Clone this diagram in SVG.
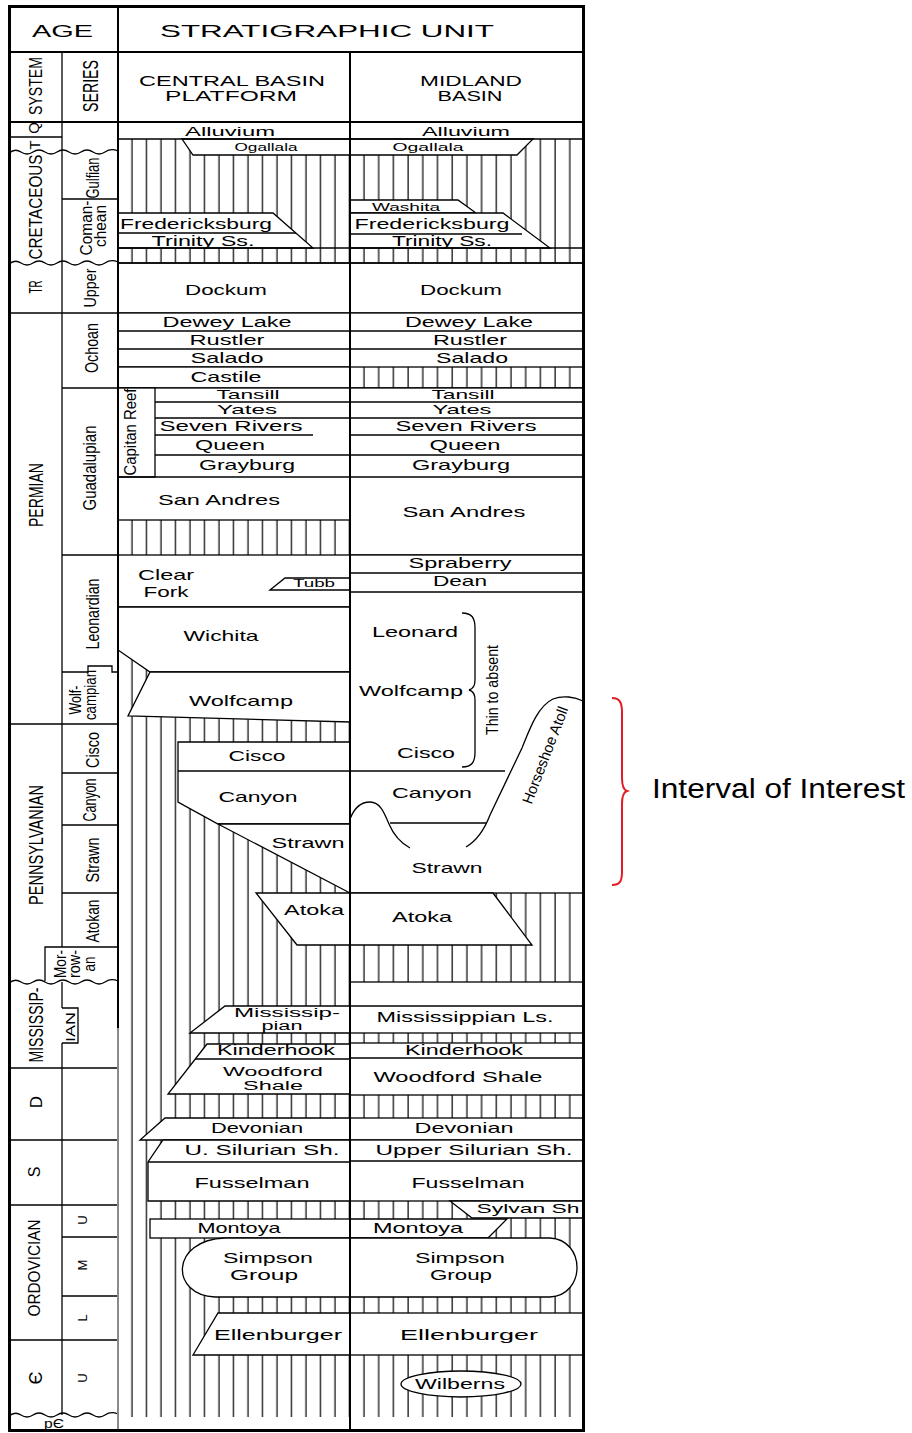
<svg xmlns="http://www.w3.org/2000/svg" width="912" height="1433" viewBox="0 0 912 1433">
<style>
.u{fill:#fff;stroke:#000;stroke-width:1.3}
.l{stroke:#000;stroke-width:1.3;fill:none}
.d{stroke:#000;stroke-width:2;fill:none}
text{font-family:"Liberation Sans",Arial,Helvetica,sans-serif;fill:#000;text-anchor:middle}
.f{font-size:14.5px}
.s{font-size:11px}
.r{font-size:18px}
</style>
<defs>
<pattern id="hc" patternUnits="userSpaceOnUse" x="125" y="0" width="14.5" height="20"><line x1="7" y1="0" x2="7" y2="20" stroke="#000" stroke-width="1.2"/></pattern>
<pattern id="hm" patternUnits="userSpaceOnUse" x="357" y="0" width="14.7" height="20"><line x1="7" y1="0" x2="7" y2="20" stroke="#000" stroke-width="1.2"/></pattern>
</defs>
<rect x="0" y="0" width="912" height="1433" fill="#fff"/>

<g id="hatch">
<rect x="118" y="139" width="232" height="1278" fill="url(#hc)"/>
<rect x="350" y="139" width="234" height="1278" fill="url(#hm)"/>
</g>

<g id="units">
<polygon class="u" points="182,139 533,139 517,155 193,155"/>
<polygon class="u" points="350,200 458,200 476,213 350,213"/>
<polygon class="u" points="118,213 273,213 313,248 118,248"/>
<line class="l" x1="118" y1="233" x2="296" y2="233"/>
<polygon class="u" points="350,213 503,213 550,248 350,248"/>
<line class="l" x1="350" y1="234" x2="522" y2="234"/>
<line class="l" x1="118" y1="248" x2="584" y2="248"/>
<line class="l" x1="118" y1="139" x2="584" y2="139"/>
<rect class="u" x="118" y="263" width="466" height="50"/>
<rect class="u" x="118" y="313" width="466" height="54"/>
<line class="l" x1="118" y1="331" x2="584" y2="331"/>
<line class="l" x1="118" y1="349" x2="584" y2="349"/>
<rect class="u" x="118" y="367" width="232" height="21"/>
<line class="l" x1="350" y1="388" x2="584" y2="388"/>
<rect class="u" x="118" y="388" width="232" height="132"/>
<rect class="u" x="118" y="388" width="37" height="89"/>
<line class="l" x1="155" y1="402" x2="350" y2="402"/>
<line class="l" x1="155" y1="418" x2="350" y2="418"/>
<line class="l" x1="155" y1="435" x2="313" y2="435"/>
<line class="l" x1="155" y1="455" x2="350" y2="455"/>
<line class="l" x1="118" y1="477" x2="350" y2="477"/>
<rect class="u" x="350" y="388" width="234" height="167"/>
<line class="l" x1="350" y1="402" x2="584" y2="402"/>
<line class="l" x1="350" y1="418" x2="584" y2="418"/>
<line class="l" x1="350" y1="435" x2="584" y2="435"/>
<line class="l" x1="350" y1="455" x2="584" y2="455"/>
<line class="l" x1="350" y1="477" x2="584" y2="477"/>
<rect class="u" x="118" y="555" width="232" height="52"/>
<polygon class="u" points="270,590 285,578 350,578 350,590"/>
<polygon class="u" points="118,607 350,607 350,672 150,672 118,650"/>
<polygon class="u" points="150,672 350,672 350,722 128,716"/>
<rect class="u" x="350" y="555" width="234" height="338"/>
<line class="l" x1="350" y1="573" x2="584" y2="573"/>
<line class="l" x1="350" y1="592" x2="584" y2="592"/>
<line class="l" x1="350" y1="771" x2="505" y2="771"/>
<line class="l" x1="390" y1="823" x2="487" y2="823"/>
<path class="l" d="M350,819 C355,806 362,802 370,802 C380,802 384,812 389,824 C394,836 401,843 410,848"/>
<path class="l" d="M466,847 C478,840 485,828 490,815 L522,748 C530,728 538,706 553,699 C563,695 575,697 583,701"/>
<path class="l" d="M462,613 C472,613 475,618 475,628 L475,680 C475,686 473,689 469,690 C473,691 475,694 475,700 L475,752 C475,762 472,767 462,767"/>
<polygon class="u" points="178,742 350,742 350,824 218,824 178,802"/>
<line class="l" x1="178" y1="771" x2="350" y2="771"/>
<polygon class="u" points="218,824 350,824 350,893"/>
<polygon class="u" points="256,893 493,893 532,945 297,945"/>
<rect class="u" x="350" y="982" width="234" height="51"/>
<line class="l" x1="350" y1="1006" x2="584" y2="1006"/>
<polygon class="u" points="225,1006 350,1006 350,1033 190,1033"/>
<polygon class="u" points="207,1044 350,1044 350,1094 168,1094"/>
<line class="l" x1="195" y1="1059" x2="350" y2="1059"/>
<rect class="u" x="350" y="1043" width="234" height="52"/>
<line class="l" x1="350" y1="1058" x2="584" y2="1058"/>
<polygon class="u" points="165,1118 350,1118 350,1140 140,1140"/>
<rect class="u" x="350" y="1118" width="234" height="22"/>
<polygon class="u" points="163,1140 350,1140 350,1201 148,1201 148,1162"/>
<line class="l" x1="148" y1="1162" x2="350" y2="1162"/>
<rect class="u" x="350" y="1140" width="234" height="61"/>
<line class="l" x1="350" y1="1161" x2="584" y2="1161"/>
<polygon class="u" points="450,1201 584,1201 584,1218 472,1218"/>
<rect class="u" x="150" y="1219" width="200" height="19"/>
<polygon class="u" points="350,1219 507,1219 488,1238 350,1238"/>
<path class="u" d="M225,1238 L550,1238 C586,1240 586,1295 550,1297 L215,1297 C170,1295 170,1240 225,1238 Z"/>
<polygon class="u" points="218,1313 350,1313 350,1355 193,1355"/>
<rect class="u" x="350" y="1313" width="234" height="42"/>
<ellipse class="u" cx="461" cy="1384" rx="60" ry="13"/>
<rect x="118" y="1417" width="466" height="13" fill="#fff"/>
</g>

<g id="age-lines">
<line class="l" x1="9" y1="137" x2="62" y2="137"/>
<path class="l" d="M9,153 Q15,148 21,152 T33,152 T45,152 T57,152 T69,152 T81,152 T93,152 T105,152 T118,151"/>
<line class="l" x1="62" y1="199" x2="118" y2="199"/>
<path class="l" d="M9,264 Q15,259 21,263 T33,263 T45,263 T57,263 T69,263 T81,263 T93,263 T105,263 T118,262"/>
<line class="l" x1="118" y1="263" x2="584" y2="263"/>
<line class="l" x1="9" y1="313" x2="118" y2="313"/>
<line class="l" x1="62" y1="388" x2="118" y2="388"/>
<line class="l" x1="62" y1="555" x2="118" y2="555"/>
<polyline class="l" points="62,672 88,672 88,666 112,666 112,672 118,672"/>
<line class="l" x1="9" y1="724" x2="118" y2="724"/>
<line class="l" x1="62" y1="773" x2="118" y2="773"/>
<line class="l" x1="62" y1="825" x2="118" y2="825"/>
<line class="l" x1="62" y1="893" x2="118" y2="893"/>
<polyline class="l" points="45,981 45,947 118,947"/>
<path class="l" d="M9,983 Q15,978 21,982 T33,982 T45,982 T57,982 T69,982 T81,982 T93,982 T105,982 T118,981"/>
<polyline class="l" points="62,1008 78,1008 78,1043 62,1043"/>
<line class="l" x1="9" y1="1068" x2="118" y2="1068"/>
<line class="l" x1="9" y1="1140" x2="118" y2="1140"/>
<line class="l" x1="9" y1="1205" x2="118" y2="1205"/>
<line class="l" x1="62" y1="1237" x2="118" y2="1237"/>
<line class="l" x1="62" y1="1296" x2="118" y2="1296"/>
<line class="l" x1="9" y1="1340" x2="118" y2="1340"/>
<path class="l" d="M9,1416 Q15,1411 21,1415 T33,1415 T45,1415 T57,1415 T69,1415 T81,1415 T93,1415 T105,1415 T118,1414"/>
<line class="l" x1="62" y1="52" x2="62" y2="947"/>
<line class="l" x1="62" y1="982" x2="62" y2="1008"/>
<line class="l" x1="62" y1="1043" x2="62" y2="1415"/>
</g>

<g id="frame">
<line class="d" x1="9" y1="52" x2="584" y2="52"/>
<line class="d" x1="9" y1="122" x2="584" y2="122"/>
<line class="d" x1="118" y1="6" x2="118" y2="1028"/>
<line x1="118" y1="1028" x2="118" y2="1430" stroke="#8a8a8a" stroke-width="2"/>
<line class="d" x1="350" y1="52" x2="350" y2="1430"/>
<rect x="9.5" y="6.5" width="574" height="1424" fill="none" stroke="#000" stroke-width="3"/>
</g>

<g id="header-text">
<text x="62.5" y="37" font-size="17" textLength="61" lengthAdjust="spacingAndGlyphs">AGE</text>
<text x="327" y="37" font-size="17" textLength="334" lengthAdjust="spacingAndGlyphs">STRATIGRAPHIC UNIT</text>
<text x="232" y="86" font-size="14" textLength="186" lengthAdjust="spacingAndGlyphs">CENTRAL BASIN</text>
<text x="231" y="101" font-size="14" textLength="132" lengthAdjust="spacingAndGlyphs">PLATFORM</text>
<text x="471" y="86" font-size="14" textLength="102" lengthAdjust="spacingAndGlyphs">MIDLAND</text>
<text x="470" y="101" font-size="14" textLength="65" lengthAdjust="spacingAndGlyphs">BASIN</text>
</g>

<g id="age-text">
<text transform="translate(42,86) rotate(-90)" font-size="19" textLength="58" lengthAdjust="spacingAndGlyphs">SYSTEM</text>
<text transform="translate(98,86) rotate(-90)" font-size="22" textLength="52" lengthAdjust="spacingAndGlyphs">SERIES</text>
<text transform="translate(39,128) rotate(-90)" font-size="15">Q</text>
<text transform="translate(40,145) rotate(-90)" font-size="15">T</text>
<text transform="translate(42,207) rotate(-90)" font-size="19" textLength="105" lengthAdjust="spacingAndGlyphs">CRETACEOUS</text>
<text transform="translate(42,287) rotate(-90)" font-size="18" textLength="13" lengthAdjust="spacingAndGlyphs">TR</text>
<text transform="translate(99,178) rotate(-90)" class="r" textLength="41" lengthAdjust="spacingAndGlyphs">Gulfian</text>
<text transform="translate(92,228) rotate(-90)" font-size="16" textLength="55" lengthAdjust="spacingAndGlyphs">Coman-</text>
<text transform="translate(106,226) rotate(-90)" font-size="16" textLength="42" lengthAdjust="spacingAndGlyphs">chean</text>
<text transform="translate(96,288) rotate(-90)" font-size="17" textLength="39" lengthAdjust="spacingAndGlyphs">Upper</text>
<text transform="translate(43,495) rotate(-90)" font-size="20" textLength="64" lengthAdjust="spacingAndGlyphs">PERMIAN</text>
<text transform="translate(98,348) rotate(-90)" font-size="19" textLength="50" lengthAdjust="spacingAndGlyphs">Ochoan</text>
<text transform="translate(96,468) rotate(-90)" class="r" textLength="85" lengthAdjust="spacingAndGlyphs">Guadalupian</text>
<text transform="translate(99,614) rotate(-90)" font-size="19" textLength="71" lengthAdjust="spacingAndGlyphs">Leonardian</text>
<text transform="translate(81,700) rotate(-90)" font-size="16" textLength="29" lengthAdjust="spacingAndGlyphs">Wolf-</text>
<text transform="translate(96,695) rotate(-90)" font-size="16" textLength="50" lengthAdjust="spacingAndGlyphs">campian</text>
<text transform="translate(43,845) rotate(-90)" font-size="20" textLength="120" lengthAdjust="spacingAndGlyphs">PENNSYLVANIAN</text>
<text transform="translate(99,750) rotate(-90)" class="r" textLength="36" lengthAdjust="spacingAndGlyphs">Cisco</text>
<text transform="translate(96,800) rotate(-90)" class="r" textLength="43" lengthAdjust="spacingAndGlyphs">Canyon</text>
<text transform="translate(99,860) rotate(-90)" class="r" textLength="45" lengthAdjust="spacingAndGlyphs">Strawn</text>
<text transform="translate(99,921) rotate(-90)" class="r" textLength="43" lengthAdjust="spacingAndGlyphs">Atokan</text>
<text transform="translate(66,964) rotate(-90)" font-size="16" textLength="28" lengthAdjust="spacingAndGlyphs">Mor-</text>
<text transform="translate(80,964) rotate(-90)" font-size="16" textLength="28" lengthAdjust="spacingAndGlyphs">row-</text>
<text transform="translate(95,964) rotate(-90)" font-size="16" textLength="15" lengthAdjust="spacingAndGlyphs">an</text>
<text transform="translate(43,1025) rotate(-90)" font-size="20" textLength="75" lengthAdjust="spacingAndGlyphs">MISSISSIP-</text>
<text transform="translate(75,1027) rotate(-90)" font-size="13" textLength="30" lengthAdjust="spacingAndGlyphs">IAN</text>
<text transform="translate(42,1102) rotate(-90)" font-size="17">D</text>
<text transform="translate(40,1172) rotate(-90)" font-size="16">S</text>
<text transform="translate(40,1268) rotate(-90)" font-size="16" textLength="97" lengthAdjust="spacingAndGlyphs">ORDOVICIAN</text>
<text transform="translate(87,1220) rotate(-90)" font-size="13">U</text>
<text transform="translate(87,1265) rotate(-90)" font-size="13">M</text>
<text transform="translate(87,1318) rotate(-90)" font-size="13">L</text>
<text transform="translate(42,1378) rotate(-90)" font-size="18">Є</text>
<text transform="translate(87,1378) rotate(-90)" font-size="13">U</text>
<text x="54" y="1428" font-size="12" textLength="20" lengthAdjust="spacingAndGlyphs">pЄ</text>
</g>

<g id="central-text">
<text x="230" y="136" font-size="13.5" textLength="90" lengthAdjust="spacingAndGlyphs">Alluvium</text>
<text x="266" y="151" class="s" textLength="63" lengthAdjust="spacingAndGlyphs">Ogallala</text>
<text x="196" y="229" font-size="15" textLength="152" lengthAdjust="spacingAndGlyphs">Fredericksburg</text>
<text x="203" y="246" font-size="15" textLength="103" lengthAdjust="spacingAndGlyphs">Trinity Ss.</text>
<text x="226" y="295" font-size="15" textLength="82" lengthAdjust="spacingAndGlyphs">Dockum</text>
<text x="227" y="327" class="f" textLength="129" lengthAdjust="spacingAndGlyphs">Dewey Lake</text>
<text x="227" y="345" class="f" textLength="75" lengthAdjust="spacingAndGlyphs">Rustler</text>
<text x="227" y="363" class="f" textLength="73" lengthAdjust="spacingAndGlyphs">Salado</text>
<text x="226" y="382" class="f" textLength="71" lengthAdjust="spacingAndGlyphs">Castile</text>
<text transform="translate(136,432) rotate(-90)" font-size="16" textLength="87" lengthAdjust="spacingAndGlyphs">Capitan Reef</text>
<text x="248" y="399" font-size="13" textLength="63" lengthAdjust="spacingAndGlyphs">Tansill</text>
<text x="247" y="414" font-size="13.5" textLength="60" lengthAdjust="spacingAndGlyphs">Yates</text>
<text x="231" y="431" class="f" textLength="143" lengthAdjust="spacingAndGlyphs">Seven Rivers</text>
<text x="230" y="450" class="f" textLength="70" lengthAdjust="spacingAndGlyphs">Queen</text>
<text x="247" y="470" class="f" textLength="96" lengthAdjust="spacingAndGlyphs">Grayburg</text>
<text x="219" y="505" class="f" textLength="122" lengthAdjust="spacingAndGlyphs">San Andres</text>
<text x="166" y="580" class="f" textLength="56" lengthAdjust="spacingAndGlyphs">Clear</text>
<text x="166" y="597" class="f" textLength="45" lengthAdjust="spacingAndGlyphs">Fork</text>
<text x="314" y="587" font-size="11.5" textLength="42" lengthAdjust="spacingAndGlyphs">Tubb</text>
<text x="221" y="641" class="f" textLength="75" lengthAdjust="spacingAndGlyphs">Wichita</text>
<text x="241" y="706" class="f" textLength="104" lengthAdjust="spacingAndGlyphs">Wolfcamp</text>
<text x="257" y="761" class="f" textLength="57" lengthAdjust="spacingAndGlyphs">Cisco</text>
<text x="258" y="802" class="f" textLength="79" lengthAdjust="spacingAndGlyphs">Canyon</text>
<text x="308" y="848" class="f" textLength="73" lengthAdjust="spacingAndGlyphs">Strawn</text>
<text x="314" y="915" class="f" textLength="60" lengthAdjust="spacingAndGlyphs">Atoka</text>
<text x="287" y="1017" font-size="12.5" textLength="106" lengthAdjust="spacingAndGlyphs">Mississip-</text>
<text x="282" y="1030" font-size="12.5" textLength="41" lengthAdjust="spacingAndGlyphs">pian</text>
<text x="276" y="1055" class="f" textLength="118" lengthAdjust="spacingAndGlyphs">Kinderhook</text>
<text x="273" y="1076" font-size="12.5" textLength="100" lengthAdjust="spacingAndGlyphs">Woodford</text>
<text x="273" y="1090" font-size="12.5" textLength="60" lengthAdjust="spacingAndGlyphs">Shale</text>
<text x="257" y="1133" class="f" textLength="92" lengthAdjust="spacingAndGlyphs">Devonian</text>
<text x="262" y="1155" class="f" textLength="155" lengthAdjust="spacingAndGlyphs">U. Silurian Sh.</text>
<text x="252" y="1188" class="f" textLength="115" lengthAdjust="spacingAndGlyphs">Fusselman</text>
<text x="239" y="1233" class="f" textLength="83" lengthAdjust="spacingAndGlyphs">Montoya</text>
<text x="268" y="1263" class="f" textLength="90" lengthAdjust="spacingAndGlyphs">Simpson</text>
<text x="264" y="1280" class="f" textLength="68" lengthAdjust="spacingAndGlyphs">Group</text>
<text x="278" y="1340" class="f" textLength="128" lengthAdjust="spacingAndGlyphs">Ellenburger</text>
</g>

<g id="midland-text">
<text x="466" y="136" font-size="13.5" textLength="88" lengthAdjust="spacingAndGlyphs">Alluvium</text>
<text x="428" y="151" class="s" textLength="71" lengthAdjust="spacingAndGlyphs">Ogallala</text>
<text x="406" y="211" class="s" textLength="68" lengthAdjust="spacingAndGlyphs">Washita</text>
<text x="432" y="229" font-size="15" textLength="155" lengthAdjust="spacingAndGlyphs">Fredericksburg</text>
<text x="442" y="246" font-size="15" textLength="100" lengthAdjust="spacingAndGlyphs">Trinity Ss.</text>
<text x="461" y="295" font-size="15" textLength="82" lengthAdjust="spacingAndGlyphs">Dockum</text>
<text x="469" y="327" class="f" textLength="128" lengthAdjust="spacingAndGlyphs">Dewey Lake</text>
<text x="470" y="345" class="f" textLength="74" lengthAdjust="spacingAndGlyphs">Rustler</text>
<text x="472" y="363" class="f" textLength="72" lengthAdjust="spacingAndGlyphs">Salado</text>
<text x="463" y="399" font-size="13" textLength="63" lengthAdjust="spacingAndGlyphs">Tansill</text>
<text x="462" y="414" font-size="13.5" textLength="59" lengthAdjust="spacingAndGlyphs">Yates</text>
<text x="466" y="431" class="f" textLength="141" lengthAdjust="spacingAndGlyphs">Seven Rivers</text>
<text x="465" y="450" class="f" textLength="71" lengthAdjust="spacingAndGlyphs">Queen</text>
<text x="461" y="470" class="f" textLength="98" lengthAdjust="spacingAndGlyphs">Grayburg</text>
<text x="464" y="517" class="f" textLength="123" lengthAdjust="spacingAndGlyphs">San Andres</text>
<text x="460" y="568" class="f" textLength="103" lengthAdjust="spacingAndGlyphs">Spraberry</text>
<text x="460" y="586" class="f" textLength="54" lengthAdjust="spacingAndGlyphs">Dean</text>
<text x="415" y="637" class="f" textLength="86" lengthAdjust="spacingAndGlyphs">Leonard</text>
<text x="411" y="696" class="f" textLength="104" lengthAdjust="spacingAndGlyphs">Wolfcamp</text>
<text x="426" y="758" class="f" textLength="58" lengthAdjust="spacingAndGlyphs">Cisco</text>
<text transform="translate(498,690) rotate(-90)" font-size="16" textLength="90" lengthAdjust="spacingAndGlyphs">Thin to absent</text>
<text x="432" y="798" class="f" textLength="80" lengthAdjust="spacingAndGlyphs">Canyon</text>
<text transform="translate(550,757) rotate(-69)" font-size="15" textLength="103" lengthAdjust="spacingAndGlyphs">Horseshoe Atoll</text>
<text x="447" y="873" class="f" textLength="71" lengthAdjust="spacingAndGlyphs">Strawn</text>
<text x="422" y="922" class="f" textLength="60" lengthAdjust="spacingAndGlyphs">Atoka</text>
<text x="465" y="1022" class="f" textLength="177" lengthAdjust="spacingAndGlyphs">Mississippian Ls.</text>
<text x="464" y="1055" class="f" textLength="118" lengthAdjust="spacingAndGlyphs">Kinderhook</text>
<text x="458" y="1082" class="f" textLength="169" lengthAdjust="spacingAndGlyphs">Woodford Shale</text>
<text x="464" y="1133" class="f" textLength="99" lengthAdjust="spacingAndGlyphs">Devonian</text>
<text x="474" y="1155" class="f" textLength="197" lengthAdjust="spacingAndGlyphs">Upper Silurian Sh.</text>
<text x="468" y="1188" class="f" textLength="113" lengthAdjust="spacingAndGlyphs">Fusselman</text>
<text x="528" y="1213" font-size="13.5" textLength="103" lengthAdjust="spacingAndGlyphs">Sylvan Sh</text>
<text x="418" y="1233" class="f" textLength="90" lengthAdjust="spacingAndGlyphs">Montoya</text>
<text x="460" y="1263" class="f" textLength="90" lengthAdjust="spacingAndGlyphs">Simpson</text>
<text x="461" y="1280" class="f" textLength="62" lengthAdjust="spacingAndGlyphs">Group</text>
<text x="469" y="1340" class="f" textLength="138" lengthAdjust="spacingAndGlyphs">Ellenburger</text>
<text x="460" y="1389" font-size="14" textLength="90" lengthAdjust="spacingAndGlyphs">Wilberns</text>
</g>

<g id="interval-of-interest">
<path d="M612,698 C620,698 622,703 622,712 L622,778 C622,786 624,790 627,791 C624,792 622,796 622,804 L622,872 C622,881 620,885 612,885" fill="none" stroke="#e31b23" stroke-width="2"/>
<text x="652" y="798" font-size="27" textLength="253" lengthAdjust="spacingAndGlyphs" style="text-anchor:start">Interval of Interest</text>
</g>
</svg>
